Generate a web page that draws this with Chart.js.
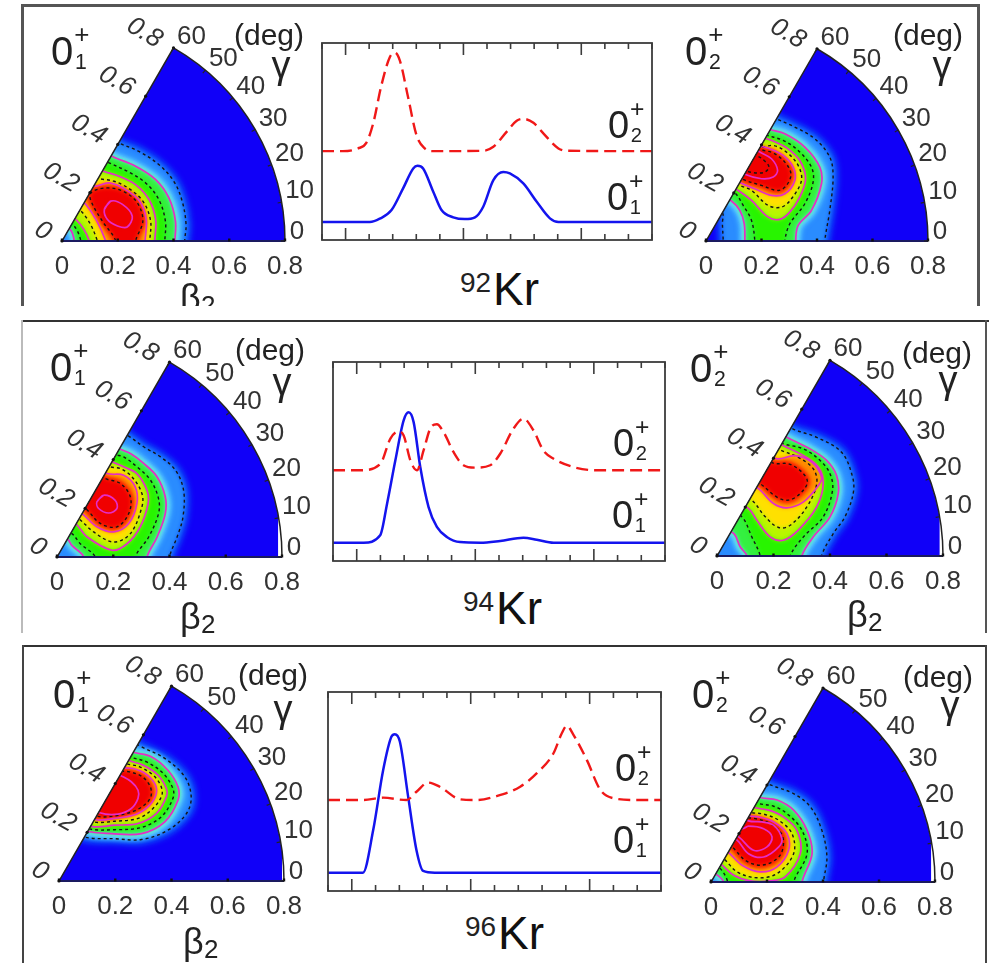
<!DOCTYPE html>
<html><head><meta charset="utf-8">
<script src="https://cdn.jsdelivr.net/npm/chart.js@4"></script>
<style>
html,body{margin:0;padding:0;background:#fff;overflow:hidden}
#page{position:relative;width:991px;height:963px;overflow:hidden;background:#fff;filter:blur(.55px);font-family:"Liberation Sans",Arial,sans-serif;color:#222}
#page canvas{position:absolute;display:block}
.t{position:absolute;line-height:1;white-space:nowrap}
.f{position:absolute}
</style></head><body><div id="page"></div>
<script>
// ---------- line-chart values (x: tick units, y: % of panel height) ----------
const minorTicks=[0,1,2,3,4,5,6,7,8,9,10,11,12,13,14];
const majorTicks=[1,6,11];
const kr92_0p2=[[0,45.1],[.89,45.1],[1.53,46.5],[1.88,49.3],[2.17,59.1],[2.52,78.5],[2.88,92.9],[3.09,95.1],[3.3,91.2],[3.65,72.6],[4.01,53.2],[4.36,46.5],[4.72,45.1],[6.84,45.3],[7.27,47.3],[7.83,54.9],[8.26,60.5],[8.54,61.5],[8.97,59.5],[9.39,54.1],[10.03,46.5],[10.38,45.3],[14,45.1]];
const kr92_0p1=[[0,9.1],[2.03,9.1],[2.45,10.8],[2.95,15.2],[3.44,26.2],[3.87,36.3],[4.05,37.7],[4.29,36.3],[4.72,24.5],[5.07,15.2],[5.57,11.5],[6.06,10.6],[6.49,11.5],[6.84,16.9],[7.27,30.4],[7.69,34.5],[7.97,33.8],[8.54,28.7],[9.11,19.4],[9.67,11],[10.03,9.1],[14,9.1]];
const kr94_0p2=[[0,45.6],[1.15,45.6],[2,48.9],[2.42,61.5],[2.77,65.1],[2.98,63.1],[3.26,50.6],[3.54,45.6],[3.82,55.6],[4.1,66.5],[4.38,68.7],[4.66,64.8],[5.08,54.8],[5.5,48.1],[5.99,46.9],[6.63,48.1],[7.05,53.9],[7.61,66.5],[8.03,71.5],[8.45,65.7],[8.87,55.6],[9.3,51.4],[10.14,47.2],[11.12,45.6],[14,45.6]];
const kr94_0p1=[[0,9.2],[1.29,9.2],[1.99,12.9],[2.28,28.8],[2.63,50.6],[2.98,70.7],[3.19,74.7],[3.4,69.8],[3.68,47.2],[4.03,27.1],[4.38,17.1],[4.8,12.1],[5.36,9.5],[6.21,9.2],[7.05,10.1],[8.03,11.7],[8.59,10.7],[9.3,9.2],[14,9.2]];
const kr96_0p2=[[0,45.7],[1.47,45.7],[2.32,46.9],[3.3,45.7],[3.72,49.9],[4.21,54.5],[4.7,52.4],[5.55,46.1],[6.25,45.7],[7.09,47.7],[8.08,52.4],[8.78,59.2],[9.48,69.2],[9.83,79.3],[10.04,83],[10.32,78.5],[10.88,65.9],[11.45,50.8],[12,46.6],[12.99,45.7],[14,45.7]];
const kr96_0p1=[[0,9.2],[1.47,9.2],[1.9,30.6],[2.32,60.8],[2.67,77.6],[2.81,78.8],[3.02,75.1],[3.37,47.4],[3.72,20.5],[4,10.1],[4.49,9.2],[14,9.2]];

// ---------- contour values (beta x 1000, cartesian) ----------
const betaTicks=[0,200,400,600,800];
const gammaTicks=[0,10,20,30,40,50,60];
// 92Kr 0+1
const a1=[[440,0],[445,60],[431,143],[401,214],[347,274],[276,321],[205,351]];
const a2i=[[44,0],[29,42]], a2=[[405,0],[407,71],[383,155],[336,220],[264,268],[181,303]];
const a3i=[[68,0],[38,60]], a3=[[369,0],[371,71],[347,149],[300,208],[234,250],[163,283]];
const a4i=[[98,0],[50,77]], a4=[[333,0],[336,77],[312,149],[264,202],[205,232],[145,252]];
const a5i=[[127,0],[74,101]], a5=[[315,0],[318,71],[294,137],[246,184],[187,214],[127,226]];
const a6i=[[157,0],[86,131]], a6=[[298,0],[302,77],[278,143],[228,184],[169,208],[110,196]];
const a7=[[264,0],[290,71],[270,137],[217,179],[157,190],[104,173],[104,143],[145,71],[193,0]];
const a8=[[152,113],[175,143],[217,131],[252,89],[234,50],[199,54],[163,77]];
// 92Kr 0+2
const b1i=[[62,0],[59,62],[58,104]], b1=[[428,0],[446,110],[458,230],[446,302],[392,368],[308,416],[254,440]];
const b2i=[[140,0],[138,62],[122,110],[92,144]], b2=[[323,0],[332,56],[380,110],[416,206],[410,266],[356,338],[284,386],[224,404]];
const b3i=[[176,0],[164,74],[134,128],[104,173]], b3=[[284,0],[302,62],[356,134],[386,212],[380,266],[332,326],[278,362],[206,386]];
const b4=[[116,182],[164,146],[224,86],[266,78],[302,104],[338,158],[359,224],[338,290],[290,336],[242,360],[203,374]];
const b5=[[122,200],[164,182],[224,128],[272,122],[308,152],[344,218],[332,272],[290,320],[242,344],[194,338]];
const b6=[[126,209],[176,188],[236,164],[284,170],[320,218],[314,266],[278,308],[230,332],[192,344]];
const b7=[[128,224],[200,200],[260,182],[290,200],[306,242],[284,284],[242,317],[200,329]];
const b8=[[140,240],[200,224],[242,230],[258,254],[236,296],[194,320]];
const b9=[[146,252],[206,246],[227,266],[206,293],[182,308]];
// 94Kr 0+1
const c1=[[400,0],[427,71],[448,142],[450,237],[421,308],[367,356],[308,391],[255,429]];
const c2i=[[95,0],[53,41],[36,65]], c2=[[320,0],[356,71],[385,154],[385,213],[356,284],[308,332],[261,367],[219,385]];
const c3i=[[136,0],[83,47],[53,83]], c3=[[278,0],[326,71],[361,154],[361,207],[332,273],[284,320],[237,355],[207,364]];
const c4=[[65,119],[107,71],[196,24],[249,47],[296,107],[324,190],[320,237],[284,296],[237,320],[196,338]];
const c5=[[77,136],[130,89],[201,53],[261,83],[302,178],[302,225],[267,284],[225,314],[190,320]];
const c6=[[89,154],[142,107],[201,89],[255,119],[284,190],[278,249],[237,290],[178,296]];
const c7=[[101,172],[154,119],[213,107],[255,154],[261,213],[225,261],[172,278]];
const c8=[[142,196],[166,219],[207,201],[213,172],[184,156],[148,172]];
// 94Kr 0+2
const d1=[[370,0],[412,80],[453,139],[482,221],[480,280],[441,368],[353,421],[270,450]];
const d2i=[[106,0],[82,33],[59,80]], d2=[[300,0],[341,68],[400,139],[429,221],[423,286],[388,339],[329,380],[247,421]];
const d3i=[[153,0],[123,68],[88,139]], d3=[[259,0],[306,68],[376,139],[409,233],[400,292],[365,339],[306,380],[229,400]];
const d4=[[112,168],[141,127],[188,68],[235,56],[288,92],[353,174],[376,256],[359,315],[306,356],[223,397]];
const d5=[[123,198],[171,139],[218,101],[259,109],[318,174],[353,256],[341,309],[288,350],[229,374]];
const d6=[[147,239],[200,186],[247,171],[306,192],[359,250],[370,280],[335,333],[276,356],[212,345]];
const d7=[[153,256],[212,209],[253,198],[294,221],[320,262],[300,298],[253,327],[200,329]];
// 96Kr 0+1
const e1=[[91,156],[198,150],[293,147],[387,180],[453,239],[470,299],[447,370],[376,435],[293,476]];
const e2=[[97,178],[186,168],[293,168],[376,210],[423,287],[423,334],[387,393],[328,441],[257,459]];
const e3=[[103,186],[198,182],[293,190],[364,228],[405,293],[405,328],[370,382],[310,423],[251,441]];
const e4=[[115,194],[198,198],[281,204],[346,239],[382,299],[382,328],[352,376],[299,411],[245,429]];
const e5=[[124,210],[198,212],[281,222],[334,257],[366,305],[361,340],[334,376],[287,405],[239,417]];
const e6=[[129,218],[198,222],[275,237],[322,269],[346,310],[340,346],[305,382],[263,399],[228,403]];
const e7=[[133,230],[210,233],[269,249],[310,275],[328,305],[322,340],[293,372],[251,387],[222,391]];
const e8=[[145,242],[210,237],[257,257],[281,293],[281,322],[257,352],[216,376]];
// 96Kr 0+2
const f1=[[402,0],[414,89],[396,184],[355,268],[295,315],[206,349]];
const f2i=[[45,0],[15,30]], f2=[[325,0],[361,101],[343,184],[295,256],[236,292],[170,303]];
const f3i=[[60,0],[27,54]], f3=[[295,0],[343,101],[325,184],[271,244],[224,270],[158,283]];
const f4=[[33,65],[81,24],[140,4],[212,4],[265,18],[319,101],[307,184],[259,232],[206,256],[146,268]];
const f5=[[45,83],[93,36],[164,15],[236,30],[295,101],[289,173],[242,220],[188,242],[134,250]];
const f6=[[60,107],[111,60],[176,36],[236,54],[277,113],[271,173],[224,214],[170,232],[123,238]];
const f7=[[75,125],[123,77],[182,60],[242,89],[259,137],[248,178],[206,211],[158,226],[117,232]];
const f8=[[93,149],[134,101],[188,89],[242,125],[253,155],[224,202],[182,214],[134,218]];
const f9=[[99,161],[152,113],[200,125],[218,161],[188,190],[134,199],[111,190]];

// contour closing helpers: the run-outs lie outside the wedge and are clipped away
const ext=p=>p[1]<15?[p[0],-60]:[p[0]-70,p[1]+40];
const wrap=a=>[[-100,-100],ext(a[0]),...a,ext(a[a.length-1]),[-100,a[a.length-1][1]+40]];
const ring=(i,o)=>[ext(i[0]),...i,ext(i[i.length-1]),ext(o[o.length-1]),...[...o].reverse(),ext(o[0])];
const blob=a=>[ext(a[0]),...a,ext(a[a.length-1])];
const loop=a=>[...a,a[0],a[1]];

const page=document.getElementById('page');
const FONT='"Liberation Sans", Arial, sans-serif';
const TXT='#333';
function text(s,x,y,size,opts={}){
  const d=document.createElement('div');d.className='t';d.innerHTML=s;
  d.style.fontSize=size+'px';d.style.left=x+'px';d.style.top=(y-size/2)+'px';
  if(opts.center)d.style.transform='translateX(-50%)';
  if(opts.color)d.style.color=opts.color;
  page.appendChild(d);
}
function state(x,y,n,size=40){
  text('0',x,y,size);
  text('+',x+size*.58,y-size*.42,size*.65);
  text(String(n),x+size*.6,y+size*.27,size*.53);
}
function beta2(x,y){ text('β',x,y,36,{color:'#222'}); text('2',x+21,y+7,26,{color:'#222'}); }
function massLabel(x,base,a){
  text(a,x,base-20,28,{color:'#222'});
  text('Kr',x+33,base-14,46,{color:'#111'});
}
function rect(l,t,w,h,c){const d=document.createElement('div');d.className='f';d.style.cssText+=`left:${l}px;top:${t}px;width:${w}px;height:${h}px;background:${c}`;page.appendChild(d);}

// colour layers for each contour level: [stroke width that grows the region, colour]
const layerColours=[
 [[14,'#0c2cf8'],[6,'#1260fc'],[0,'#2a8cff']],
 [[12,'#48b8ff'],[5,'#74e8ff'],[0,'#34f040']],
 [[0,'#28f400']],
 [[0,'#b8f600']],
 [[0,'#ffe000']],
 [[0,'#ff8c00']],
 [[6,'#ff3000'],[0,'#f00000']],
 [[0,'#f00000']],
 [[0,'#f00000']]
];
const DASH='#141414', MAG='#e52cc8';

function polar(cfg){
  const {ox,oy,R,levels,style,cut}=cfg;
  const H=Math.round(R*.9),L=70,Rt=60,T=45,B=45;
  const c=document.createElement('canvas');
  c.width=R+L+Rt;c.height=H+T+B;
  c.style.left=(ox-L)+'px';c.style.top=(oy-H-T)+'px';
  c.style.width=c.width+'px';c.style.height=c.height+'px';
  page.appendChild(c);
  const toXY=a=>a.map(p=>({x:p[0],y:p[1]}));
  const ds=[];
  ds.push({data:toXY([[-50,-50],[cut,-50],[cut,800],[-50,800]]),fill:'shape',backgroundColor:'#1000f8',borderWidth:0,tension:0});
  levels.forEach((lv,i)=>layerColours[i].forEach(([w,col])=>{
    ds.push({data:toXY(lv),fill:'shape',backgroundColor:col,borderColor:col,borderWidth:w,tension:.35});
  }));
  const lastFill=ds.length-1;
  levels.forEach((lv,i)=>{
    const dash=style[i]==='d';
    ds.push({data:toXY(lv),fill:false,borderColor:dash?DASH:MAG,borderWidth:dash?1.4:1.7,borderDash:dash?[3,3]:[],tension:.35});
  });
  ds.forEach((d,i)=>{d.showLine=true;d.pointRadius=0;d.order=ds.length-i;d.capBezierPoints=false;d.clip=false;});
  const wedge={
    id:'wedge',
    beforeDatasetsDraw(ch){
      const x=ch.scales.x,y=ch.scales.y,g=ch.ctx,x0=x.getPixelForValue(0),y0=y.getPixelForValue(0),r=x.getPixelForValue(800)-x0;
      g.save();g.beginPath();g.moveTo(x0,y0);g.lineTo(x0+r*Math.cos(Math.PI/3),y0-r*Math.sin(Math.PI/3));
      g.arc(x0,y0,r,-Math.PI/3,0);g.closePath();g.clip();
    },
    afterDatasetDraw(ch,args){
      if(args.index===0) ch.ctx.filter='blur(2px)';
      if(args.index===lastFill) ch.ctx.filter='none';
    },
    afterDatasetsDraw(ch){
      const x=ch.scales.x,y=ch.scales.y,g=ch.ctx,x0=x.getPixelForValue(0),y0=y.getPixelForValue(0),r=x.getPixelForValue(800)-x0;
      g.restore();g.save();
      const ca=Math.cos(Math.PI/3),sa=Math.sin(Math.PI/3);
      g.strokeStyle='#222';g.lineWidth=1.5;g.beginPath();g.moveTo(x0+r,y0);g.arc(x0,y0,r,0,-Math.PI/3,true);g.lineTo(x0,y0);g.stroke();
      g.strokeStyle='#1a1a60';g.lineWidth=1.8;g.beginPath();g.moveTo(x0,y0);g.lineTo(x0+r,y0);g.stroke();
      g.fillStyle='#111';
      betaTicks.forEach(b=>{
        const p=x.getPixelForValue(b)-x0;
        g.fillRect(x0+p-1.2,y0-2.5,2.4,3);
        g.beginPath();g.arc(x0+p*ca,y0-p*sa,1.6,0,7);g.fill();
      });
      g.strokeStyle='#222';g.lineWidth=1.2;
      gammaTicks.forEach(d=>{const a=d*Math.PI/180;g.beginPath();g.moveTo(x0+r*Math.cos(a),y0-r*Math.sin(a));g.lineTo(x0+(r-4)*Math.cos(a),y0-(r-4)*Math.sin(a));g.stroke();});
      g.fillStyle=TXT;g.textAlign='center';g.textBaseline='middle';
      g.font='26px '+FONT;
      gammaTicks.forEach(d=>{const a=d*Math.PI/180;g.fillText(String(d),x0+r*Math.cos(a)+(d?18:12),y0-r*Math.sin(a)-(d?11:9));});
      g.font='italic 26px '+FONT;
      betaTicks.forEach(b=>{
        const p=x.getPixelForValue(b)-x0,dx=b?-29:-19,dy=b?-15:-10;
        g.save();g.translate(x0+p*ca+dx,y0-p*sa+dy);g.rotate(Math.PI/6);g.fillText(b?(b/1000).toFixed(1):'0',0,0);g.restore();
      });
      g.restore();
    }
  };
  new Chart(c,{type:'scatter',data:{datasets:ds},plugins:[wedge],options:{
    responsive:false,animation:false,devicePixelRatio:1,events:[],
    layout:{padding:{left:L,right:Rt,top:T,bottom:0}},
    plugins:{legend:{display:false},tooltip:{enabled:false}},
    scales:{
      x:{type:'linear',min:0,max:800,border:{display:false},grid:{display:false,drawTicks:false},
        afterBuildTicks(s){s.ticks=betaTicks.map(v=>({value:v}));},
        afterFit(s){s.height=B;s.paddingLeft=0;s.paddingRight=0;},
        ticks:{color:TXT,font:{size:26,family:FONT},padding:10,autoSkip:false,maxRotation:0,callback:v=>v?(v/1000).toFixed(1):'0'}},
      y:{type:'linear',min:0,max:720,display:false}
    }}});
  text('(deg)',ox+cfg.deg[0],oy+cfg.deg[1],30,{center:true});
  text('γ',ox+cfg.gam[0],oy+cfg.gam[1]-3,38,{center:true,color:'#222'});
}

function spectrum(cfg){
  const {l,t,w,h,red,blue}=cfg,P=4;
  const c=document.createElement('canvas');
  c.width=w+2*P;c.height=h+2*P;c.style.left=(l-P)+'px';c.style.top=(t-P)+'px';
  c.style.width=c.width+'px';c.style.height=c.height+'px';page.appendChild(c);
  const toXY=a=>a.map(p=>({x:p[0],y:p[1]}));
  const frame={id:'frame',afterDatasetsDraw(ch){
    const {left,right,top,bottom}=ch.chartArea,g=ch.ctx,x=ch.scales.x;
    g.save();g.strokeStyle='#3c3c3c';g.lineWidth=1.8;g.strokeRect(left,top,right-left,bottom-top);
    g.lineWidth=1.6;
    minorTicks.forEach(v=>{
      const px=x.getPixelForValue(v),len=majorTicks.includes(v)?12:6;
      g.beginPath();g.moveTo(px,top);g.lineTo(px,top+len);g.moveTo(px,bottom);g.lineTo(px,bottom-len);g.stroke();
    });
    g.restore();
  }};
  new Chart(c,{type:'line',data:{datasets:[
    {label:'0+2',data:toXY(red),borderColor:'#f01818',borderWidth:2.4,borderDash:[12,6],pointRadius:0,cubicInterpolationMode:'monotone'},
    {label:'0+1',data:toXY(blue),borderColor:'#1414ee',borderWidth:2.5,pointRadius:0,cubicInterpolationMode:'monotone'}
  ]},plugins:[frame],options:{
    responsive:false,animation:false,devicePixelRatio:1,events:[],
    layout:{padding:P},
    plugins:{legend:{display:false},tooltip:{enabled:false}},
    scales:{
      x:{type:'linear',min:0,max:14,display:false},
      y:{type:'linear',min:0,max:100,display:false}
    }}});
}

polar({ox:62,oy:241,R:223,cut:900,deg:[207,-206],gam:[219,-173],style:'dmdmdmdm',levels:[wrap(a1),ring(a2i,a2),ring(a3i,a3),ring(a4i,a4),ring(a5i,a5),ring(a6i,a6),blob(a7),loop(a8)]});
polar({ox:706,oy:241,R:222,cut:900,deg:[222,-206],gam:[236,-173],style:'dmdmdmdmd',levels:[ring(b1i,b1),ring(b2i,b2),ring(b3i,b3),blob(b4),blob(b5),blob(b6),blob(b7),blob(b8),blob(b9)]});
polar({ox:57,oy:557,R:225,cut:786,deg:[213,-207],gam:[225,-172],style:'dmdmdmdm',levels:[wrap(c1),ring(c2i,c2),ring(c3i,c3),blob(c4),blob(c5),blob(c6),blob(c7),loop(c8)]});
polar({ox:717,oy:556,R:226,cut:788,deg:[220,-203],gam:[231,-173],style:'dmdmdmd',levels:[wrap(d1),ring(d2i,d2),ring(d3i,d3),blob(d4),blob(d5),blob(d6),blob(d7)]});
polar({ox:59,oy:881,R:225,cut:793,deg:[214,-206],gam:[224,-169],style:'dmdmdmdm',levels:[blob(e1),blob(e2),blob(e3),blob(e4),blob(e5),blob(e6),blob(e7),blob(e8)]});
polar({ox:711,oy:882,R:224,cut:786,deg:[227,-205],gam:[239,-174],style:'dmdmdmdmm',levels:[wrap(f1),ring(f2i,f2),ring(f3i,f3),blob(f4),blob(f5),blob(f6),blob(f7),blob(f8),blob(f9)]});

spectrum({l:322,t:43,w:330,h:197,red:kr92_0p2,blue:kr92_0p1});
spectrum({l:333,t:362,w:332,h:199,red:kr94_0p2,blue:kr94_0p1});
spectrum({l:328,t:692,w:333,h:199,red:kr96_0p2,blue:kr96_0p1});

state(51,51,1);state(685,51,2);
state(50,367,1);state(690,368,2);
state(53,694,1);state(692,694,2);
state(608,125,2,38);state(607,197,1,38);
state(613,443,2,38);state(612,515,1,38);
state(615,768,2,38);state(613,840,1,38);
massLabel(460,303,'92');massLabel(463,622,'94');massLabel(465,947,'96');
beta2(180,298);beta2(180,617);beta2(847,615);beta2(183,942);

// panel frames of the three rows
const GR='#555';
rect(0,306,991,14,'#fff');
rect(21,4,958,2.5,GR);rect(21,4,2.5,302,GR);rect(977,4,2.5,302,GR);
rect(21,320,968,2,'#333');rect(21,320,1.5,313,'#bbb');rect(985,320,2,313,GR);
rect(22,645,965,2,'#333');rect(22,645,2,318,'#444');rect(985,645,2,318,'#444');
</script></body></html>
